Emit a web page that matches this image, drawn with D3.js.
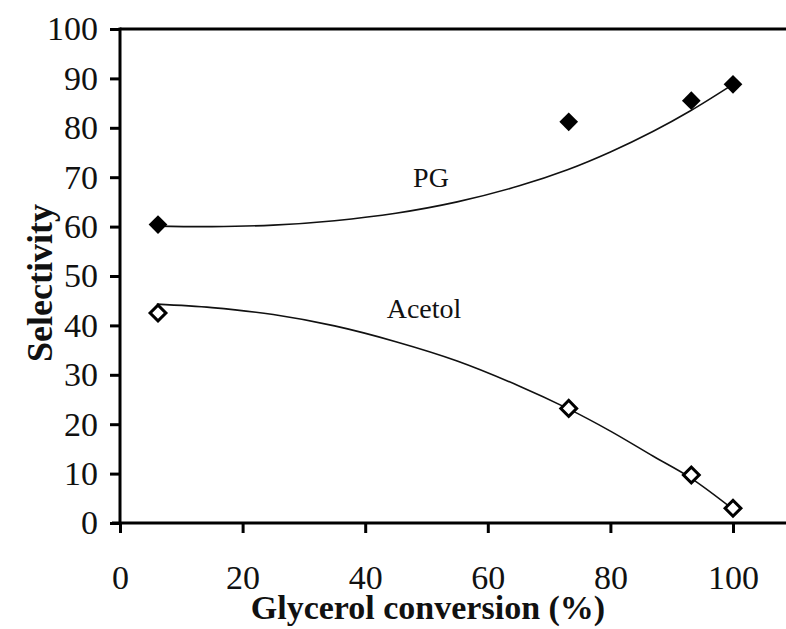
<!DOCTYPE html>
<html>
<head>
<meta charset="utf-8">
<script src="https://cdn.jsdelivr.net/npm/d3@7"></script>
<style>
    html, body { margin: 0; padding: 0; background: #fff; }
    svg { display: block; }
    text { font-family: "Liberation Serif", "Times New Roman", serif; fill: #111; }
</style>
</head>
<body>
<svg id="chart" width="786" height="629"></svg>
<script>
// Measured points (glycerol conversion %, selectivity %)
const conversion = [6.2, 73.2, 93.2, 100];
const pgSelectivity = [60.4, 81.2, 85.5, 88.8];
const acetolSelectivity = [42.5, 23.2, 9.7, 3.0];

// Trend lines
const trendX = [6, 15, 25, 35, 45, 55, 65, 73, 80, 87, 93, 100];
const pgTrendY = [60.1, 60.0, 60.3, 61.2, 62.7, 65.0, 68.2, 71.5, 75.1, 79.3, 83.4, 88.8];
const acetolTrendY = [44.3, 43.6, 42.2, 39.9, 36.7, 32.8, 27.8, 23.2, 18.6, 13.5, 9.2, 2.8];

const xTicks = [0, 20, 40, 60, 80, 100];
const yTicks = [0, 10, 20, 30, 40, 50, 60, 70, 80, 90, 100];

const svg = d3.select("#chart");

const margin = {left: 120, top: 29, bottom: 523};

let x = d3.scaleLinear().domain([0, 110]).range([margin.left, margin.left + 110 * 6.13]);
let y = d3.scaleLinear().domain([0, 100]).range([margin.bottom, margin.top]);

// top border
svg.append("line")
    .attr("x1", x(0)).attr("x2", 786)
    .attr("y1", y(100)).attr("y2", y(100))
    .attr("stroke", "#000").attr("stroke-width", 3);

// y axis
let yAxis = svg.append("g")
    .attr("transform", `translate(${x(0)},0)`)
    .call(d3.axisLeft(y).tickValues(yTicks).tickSize(10).tickPadding(12));

// x axis
let xAxis = svg.append("g")
    .attr("transform", `translate(0,${y(0)})`)
    .call(d3.axisBottom(x).tickValues(xTicks).tickSize(10).tickPadding(32));

[xAxis, yAxis].forEach(g => {
    g.select(".domain").attr("stroke", "#000").attr("stroke-width", 3);
    g.selectAll(".tick line").attr("stroke", "#000").attr("stroke-width", 3);
    g.selectAll(".tick text")
        .style("font-family", "'Liberation Serif', serif")
        .style("font-size", "34px")
        .attr("fill", "#111");
});
yAxis.select(".domain").attr("d", `M0,${y(0) + 2}V${y(100) - 1.5}`);
xAxis.select(".domain").attr("d", `M${x(0) - 8},0H786`);
yAxis.selectAll(".tick line").attr("x1", 0);
xAxis.selectAll(".tick line").attr("y1", 0);

// trend lines
let line = d3.line()
    .x(d => x(d[0]))
    .y(d => y(d[1]))
    .curve(d3.curveCatmullRom);

[pgTrendY, acetolTrendY].forEach(values => {
    svg.append("path")
        .datum(d3.zip(trendX, values))
        .attr("d", line)
        .attr("fill", "none")
        .attr("stroke", "#111")
        .attr("stroke-width", 1.6);
});

// markers
let diamondFilled = d3.symbol().type(d3.symbolSquare).size(175);
let diamondOpen = d3.symbol().type(d3.symbolSquare).size(125);

svg.append("g")
    .selectAll("path")
    .data(d3.zip(conversion, pgSelectivity))
    .join("path")
    .attr("d", diamondFilled)
    .attr("transform", d => `translate(${x(d[0])},${y(d[1])}) rotate(45)`)
    .attr("fill", "#000");

svg.append("g")
    .selectAll("path")
    .data(d3.zip(conversion, acetolSelectivity))
    .join("path")
    .attr("d", diamondOpen)
    .attr("transform", d => `translate(${x(d[0])},${y(d[1])}) rotate(45)`)
    .attr("fill", "#fff")
    .attr("stroke", "#000")
    .attr("stroke-width", 3);

// series labels
svg.append("text")
    .attr("x", 431).attr("y", 187)
    .attr("text-anchor", "middle")
    .style("font-size", "28px")
    .text("PG");

svg.append("text")
    .attr("x", 424).attr("y", 318)
    .attr("text-anchor", "middle")
    .style("font-size", "28px")
    .text("Acetol");

// axis titles
svg.append("text")
    .attr("x", 428).attr("y", 619)
    .attr("text-anchor", "middle")
    .style("font-size", "34px")
    .style("font-weight", "bold")
    .text("Glycerol conversion (%)");

svg.append("text")
    .attr("transform", "translate(52,283) rotate(-90)")
    .attr("text-anchor", "middle")
    .style("font-size", "36px")
    .style("font-weight", "bold")
    .text("Selectivity");
</script>
</body>
</html>
